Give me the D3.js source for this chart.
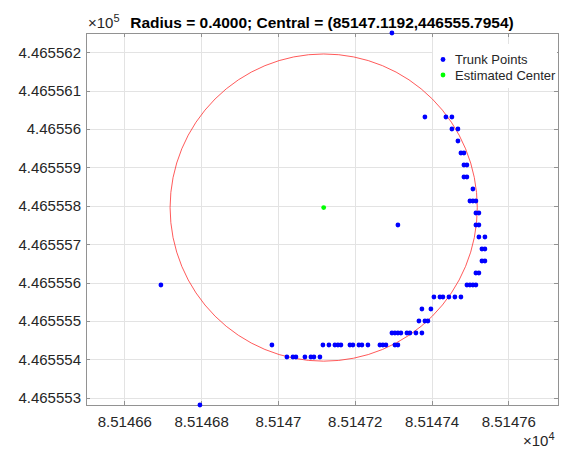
<!DOCTYPE html>
<html>
<head>
<meta charset="utf-8">
<script src="https://cdn.jsdelivr.net/npm/d3@7"></script>
<style>
  body { margin: 0; background: #fff; }
  svg { display: block; font-family: "Liberation Sans", Arial, sans-serif; }
</style>
</head>
<body>
<div id="chart"></div>
<script>
// trunk points (x = easting, y = northing)
var trunkX = [
    85147.2969, 85146.7969, 85146.6953, 85147.3125,
    85147.3828, 85147.4375, 85147.4531,
    85147.4531, 85147.4688,
    85147.4688,
    85147.4766, 85147.4844,
    85147.4844, 85147.4922,
    85147.4844, 85147.4922,
    85147.5078,
    85147.5000, 85147.5078, 85147.5156,
    85147.5156, 85147.5234,
    85147.5156, 85147.5234,
    85147.5234, 85147.5391,
    85147.5313, 85147.5391,
    85147.5313, 85147.5391,
    85147.5156, 85147.5234,
    85147.4922, 85147.5000, 85147.5078, 85147.5156,
    85147.4063, 85147.4219, 85147.4297, 85147.4453, 85147.4609, 85147.4766,
    85147.3750, 85147.3984,
    85147.3672, 85147.3828, 85147.3906,
    85147.2969, 85147.3047, 85147.3125, 85147.3203, 85147.3359, 85147.3438, 85147.3594, 85147.3750,
    85146.9844, 85147.1172, 85147.1328, 85147.1484, 85147.1563, 85147.1641, 85147.1875, 85147.1953,
    85147.2109, 85147.2188, 85147.2344, 85147.2656, 85147.2734, 85147.2813, 85147.3047, 85147.3125,
    85147.0234, 85147.0391, 85147.0469, 85147.0703, 85147.0859, 85147.0938, 85147.1094
];
var trunkY = [
    446556.2500, 446555.2813, 446555.5938, 446555.7500,
    446556.0313, 446556.0313, 446556.0313,
    446556.0000, 446556.0000,
    446555.9688,
    446555.9375, 446555.9375,
    446555.9063, 446555.9063,
    446555.8750, 446555.8750,
    446555.8438,
    446555.8125, 446555.8125, 446555.8125,
    446555.7813, 446555.7813,
    446555.7500, 446555.7500,
    446555.7188, 446555.7188,
    446555.6875, 446555.6875,
    446555.6563, 446555.6563,
    446555.6250, 446555.6250,
    446555.5938, 446555.5938, 446555.5938, 446555.5938,
    446555.5625, 446555.5625, 446555.5625, 446555.5625, 446555.5625, 446555.5625,
    446555.5313, 446555.5313,
    446555.5000, 446555.5000, 446555.5000,
    446555.4688, 446555.4688, 446555.4688, 446555.4688, 446555.4688, 446555.4688, 446555.4688, 446555.4688,
    446555.4375, 446555.4375, 446555.4375, 446555.4375, 446555.4375, 446555.4375, 446555.4375, 446555.4375,
    446555.4375, 446555.4375, 446555.4375, 446555.4375, 446555.4375, 446555.4375, 446555.4375, 446555.4375,
    446555.4063, 446555.4063, 446555.4063, 446555.4063, 446555.4063, 446555.4063, 446555.4063
];

// fitted circle
var centerX = 85147.1192;
var centerY = 446555.7954;
var radius = 0.4;

var xTicks = [85146.6, 85146.8, 85147.0, 85147.2, 85147.4, 85147.6];
var xTickLabels = ["8.51466", "8.51468", "8.5147", "8.51472", "8.51474", "8.51476"];
var yTicks = [446555.3, 446555.4, 446555.5, 446555.6, 446555.7, 446555.8, 446555.9, 446556.0, 446556.1, 446556.2];
var yTickLabels = ["4.465553", "4.465554", "4.465555", "4.465556", "4.465557", "4.465558",
                   "4.465559", "4.46556", "4.465561", "4.465562"];
var legendLabels = ["Trunk Points", "Estimated Center"];

var width = 562, height = 451;
var margin = {top: 33, right: 4, bottom: 46, left: 86};
var w = width - margin.left - margin.right;
var h = height - margin.top - margin.bottom;

var svg = d3.select("#chart").append("svg")
    .attr("width", width)
    .attr("height", height);

var x = d3.scaleLinear().domain([85146.5002, 85147.7294]).range([margin.left, margin.left + w]);
var y = d3.scaleLinear().domain([446555.28125, 446556.25]).range([margin.top + h, margin.top]);

var axisColor = "#929292";
var textColor = "#262626";

// grid
var grid = svg.append("g");
grid.selectAll(".gx").data(xTicks).enter().append("line")
    .attr("x1", function(d) { return Math.round(x(d)) + 0.5; })
    .attr("x2", function(d) { return Math.round(x(d)) + 0.5; })
    .attr("y1", margin.top).attr("y2", margin.top + h)
    .attr("stroke", "#e3e3e3");
grid.selectAll(".gy").data(yTicks).enter().append("line")
    .attr("y1", function(d) { return Math.round(y(d)) + 0.5; })
    .attr("y2", function(d) { return Math.round(y(d)) + 0.5; })
    .attr("x1", margin.left).attr("x2", margin.left + w)
    .attr("stroke", "#e3e3e3");

// circle
svg.append("circle")
    .attr("cx", x(centerX))
    .attr("cy", y(centerY))
    .attr("r", x(centerX + radius) - x(centerX))
    .attr("fill", "none")
    .attr("stroke", "#ff3030")
    .attr("stroke-width", 0.8);

// axes box + ticks
var axisBottom = d3.axisBottom(x).tickValues(xTicks).tickSize(0).tickPadding(11)
    .tickFormat(function(d, i) { return xTickLabels[i]; });
var axisLeft = d3.axisLeft(y).tickValues(yTicks).tickSize(0).tickPadding(5)
    .tickFormat(function(d, i) { return yTickLabels[i]; });

var gx = svg.append("g").attr("transform", "translate(0," + (margin.top + h) + ")").call(axisBottom);
var gy = svg.append("g").attr("transform", "translate(" + margin.left + ",0)").call(axisLeft);
[gx, gy].forEach(function(g) {
    g.select(".domain").remove();
    g.selectAll("text").attr("fill", textColor).style("font-size", "15px");
});

svg.append("rect")
    .attr("x", margin.left + 0.5).attr("y", margin.top + 0.5)
    .attr("width", w).attr("height", h)
    .attr("fill", "none").attr("stroke", axisColor);

var tl = 4;
var ticks = svg.append("g").attr("stroke", axisColor);
xTicks.forEach(function(d) {
    var px = Math.round(x(d)) + 0.5;
    ticks.append("line").attr("x1", px).attr("x2", px).attr("y1", margin.top + h).attr("y2", margin.top + h - tl);
    ticks.append("line").attr("x1", px).attr("x2", px).attr("y1", margin.top).attr("y2", margin.top + tl);
});
yTicks.forEach(function(d) {
    var py = Math.round(y(d)) + 0.5;
    ticks.append("line").attr("y1", py).attr("y2", py).attr("x1", margin.left).attr("x2", margin.left + tl);
    ticks.append("line").attr("y1", py).attr("y2", py).attr("x1", margin.left + w).attr("x2", margin.left + w - tl);
});

// exponent labels
var ex5 = svg.append("text").attr("x", 88).attr("y", 28).attr("fill", textColor).style("font-size", "15px");
ex5.append("tspan").text("\u00d710");
ex5.append("tspan").attr("dy", -6).style("font-size", "11px").text("5");

var ex4 = svg.append("text").attr("x", 523).attr("y", 446).attr("fill", textColor).style("font-size", "15px");
ex4.append("tspan").text("\u00d710");
ex4.append("tspan").attr("dy", -6).style("font-size", "11px").text("4");

// title
svg.append("text")
    .attr("x", margin.left + w / 2).attr("y", 27.5)
    .attr("text-anchor", "middle")
    .style("font-size", "15.5px").style("font-weight", "bold")
    .text("Radius = " + radius.toFixed(4) + "; Central = (" + centerX.toFixed(4) + "," + centerY.toFixed(4) + ")");

// points
svg.append("g").selectAll("circle").data(trunkX).enter().append("circle")
    .attr("cx", function(d) { return x(d); })
    .attr("cy", function(d, i) { return y(trunkY[i]); })
    .attr("r", 2.4)
    .attr("fill", "#0000ff");

svg.append("circle")
    .attr("cx", x(centerX)).attr("cy", y(centerY))
    .attr("r", 2.4).attr("fill", "#00ff00");

// legend
var lg = svg.append("g");
lg.append("rect").attr("x", 433).attr("y", 44).attr("width", 124).attr("height", 44).attr("fill", "#fff");
var legendColors = ["#0000ff", "#00ff00"];
legendLabels.forEach(function(label, i) {
    var ly = 59.5 + i * 15.5;
    lg.append("circle").attr("cx", 443).attr("cy", ly).attr("r", 2.4).attr("fill", legendColors[i]);
    lg.append("text").attr("x", 455).attr("y", ly + 4.6)
        .attr("fill", textColor).style("font-size", "13px").text(label);
});
</script>
</body>
</html>
